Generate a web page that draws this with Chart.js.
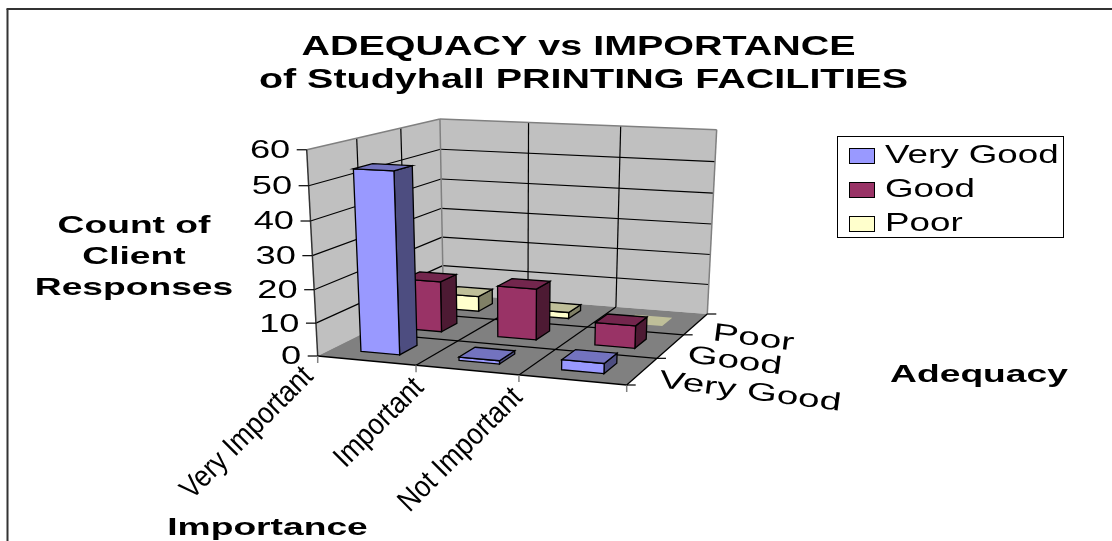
<!DOCTYPE html>
<html>
<head>
<meta charset="utf-8">
<title>Adequacy vs Importance</title>
<script src="https://cdn.jsdelivr.net/npm/chart.js@4/dist/chart.umd.min.js"></script>
<style>
html, body { margin: 0; padding: 0; background: #fff; overflow: hidden; }
#wrap { width: 1112px; height: 541px; position: relative; }
</style>
</head>
<body>
<div id="wrap"><canvas id="printChart" width="1112" height="541"></canvas></div>
<script>
const importanceLabels = ['Very Important', 'Important', 'Not Important'];
const adequacyLabels = ['Very Good', 'Good', 'Poor'];
const veryGoodCounts = [54, 1, 3];
const goodCounts = [16, 16, 7];
const poorCounts = [5, 2, 0];
const countTicks = [0, 10, 20, 30, 40, 50, 60];
const titleLines = ['ADEQUACY vs IMPORTANCE', 'of Studyhall PRINTING FACILITIES'];
const countTitle = ['Count of', 'Client', 'Responses'];

const FONT = '"Liberation Sans", Arial, sans-serif';

// floor corners of the 3D box, [u, v]: u runs along importance, v into the depth
const floorCorners = { p00: [317.7, 356], p10: [626.7, 385], p11: [707.3, 314], p01: [443.3, 293.6] };
const verticalVanish = [516, 4078];
const heightAlpha = -0.0525;

// unit square -> floor quad homography
function makeFloor(c) {
    const sx = c.p00[0] - c.p10[0] + c.p11[0] - c.p01[0];
    const sy = c.p00[1] - c.p10[1] + c.p11[1] - c.p01[1];
    const dx1 = c.p10[0] - c.p11[0], dx2 = c.p01[0] - c.p11[0];
    const dy1 = c.p10[1] - c.p11[1], dy2 = c.p01[1] - c.p11[1];
    const det = dx1 * dy2 - dx2 * dy1;
    const g = (sx * dy2 - dx2 * sy) / det;
    const h = (dx1 * sy - sx * dy1) / det;
    return {
        g, h,
        a: c.p10[0] * (1 + g) - c.p00[0], b: c.p01[0] * (1 + h) - c.p00[0],
        d: c.p10[1] * (1 + g) - c.p00[1], e: c.p01[1] * (1 + h) - c.p00[1]
    };
}
const floorMap = makeFloor(floorCorners);

// u, v, w all 0..1, w is the height
function project(u, v, w) {
    const f = floorMap, c = floorCorners.p00;
    const W = f.g * u + f.h * v + 1;
    const X = f.a * u + f.b * v + c[0];
    const Y = f.d * u + f.e * v + c[1];
    const k = w * heightAlpha;
    return [(X + k * verticalVanish[0]) / (W + k), (Y + k * verticalVanish[1]) / (W + k)];
}

function poly(ctx, pts, fill, stroke) {
    ctx.beginPath();
    pts.forEach((p, i) => i ? ctx.lineTo(p[0], p[1]) : ctx.moveTo(p[0], p[1]));
    ctx.closePath();
    if (fill) { ctx.fillStyle = fill; ctx.fill(); }
    if (stroke) { ctx.strokeStyle = stroke; ctx.lineWidth = 1.3; ctx.stroke(); }
}

function seg(ctx, a, b, color, width) {
    ctx.beginPath();
    ctx.moveTo(a[0], a[1]);
    ctx.lineTo(b[0], b[1]);
    ctx.strokeStyle = color;
    ctx.lineWidth = width || 1.2;
    ctx.stroke();
}

// text is wider than tall in this chart, stretch lets it run along its baseline
function label(ctx, text, x, y, opts) {
    ctx.save();
    ctx.translate(x, y);
    ctx.rotate(opts.angle || 0);
    ctx.scale(opts.stretch || 1, 1);
    ctx.font = (opts.bold ? 'bold ' : '') + opts.size + 'px ' + FONT;
    ctx.textAlign = opts.align || 'left';
    ctx.textBaseline = opts.baseline || 'middle';
    ctx.fillStyle = '#000';
    ctx.fillText(text, 0, 0);
    ctx.restore();
}

function drawBox(ctx, u0, u1, v0, v1, w, colors) {
    const fl = project(u0, v0, 0), fr = project(u1, v0, 0), br = project(u1, v1, 0);
    const tfl = project(u0, v0, w), tfr = project(u1, v0, w), tbr = project(u1, v1, w), tbl = project(u0, v1, w);
    if (w <= 0) {
        // an empty count only shows as a flat patch on the floor
        poly(ctx, [tfl, tfr, tbr, tbl], colors.top);
        return;
    }
    poly(ctx, [fr, br, tbr, tfr], colors.side, '#000');
    poly(ctx, [fl, fr, tfr, tfl], colors.front, '#000');
    poly(ctx, [tfl, tfr, tbr, tbl], colors.top, '#000');
}

const boxPlugin = {
    id: 'box3d',
    beforeDatasetsDraw(chart) {
        const ctx = chart.ctx;
        const xs = chart.scales.x, ys = chart.scales.y, zs = chart.scales.z;
        const depth = i => (zs.getPixelForValue(i) - zs.left) / zs.width;
        const across = px => (px - xs.left) / xs.width;
        const rise = v => (ys.bottom - ys.getPixelForValue(v)) / ys.height;

        ctx.save();

        // outer frame runs off the right and bottom of the page
        seg(ctx, [7.5, 541], [7.5, 9], '#333', 2);
        seg(ctx, [6.5, 9], [1112, 9], '#333', 2);

        // chart title
        const titleCentres = [578.5, 583.5];
        titleLines.forEach((t, i) => {
            label(ctx, t, titleCentres[i], 54.5 + i * 33.5, { size: 28, bold: true, stretch: 1.41, align: 'center', baseline: 'alphabetic' });
        });

        // walls and floor
        poly(ctx, [project(0, 0, 0), project(0, 1, 0), project(0, 1, 1), project(0, 0, 1)], '#c0c0c0');
        poly(ctx, [project(0, 1, 0), project(1, 1, 0), project(1, 1, 1), project(0, 1, 1)], '#c0c0c0');
        poly(ctx, [project(0, 0, 0), project(1, 0, 0), project(1, 1, 0), project(0, 1, 0)], '#808080');

        // gridlines
        countTicks.forEach(t => {
            const w = rise(t);
            if (w > 0 && w < 1) {
                seg(ctx, project(0, 0, w), project(0, 1, w), '#000');
                seg(ctx, project(0, 1, w), project(1, 1, w), '#000');
            }
        });
        [1 / 3, 2 / 3].forEach(t => {
            seg(ctx, project(t, 1, 0), project(t, 1, 1), '#000');
            seg(ctx, project(0, t, 0), project(0, t, 1), '#000');
            seg(ctx, project(t, 0, 0), project(t, 1, 0), '#000');
            seg(ctx, project(0, t, 0), project(1, t, 0), '#000');
        });

        // box edges
        seg(ctx, project(0, 0, 1), project(0, 1, 1), '#808080', 1.5);
        seg(ctx, project(0, 1, 1), project(1, 1, 1), '#808080', 1.5);
        seg(ctx, project(1, 1, 0), project(1, 1, 1), '#808080', 1.5);
        seg(ctx, project(0, 1, 0), project(0, 1, 1), '#808080', 1.5);
        seg(ctx, project(0, 0, 0), project(0, 0, 1), '#333', 1.5);
        seg(ctx, project(0, 0, 0), project(1, 0, 0), '#000', 1.3);
        seg(ctx, project(1, 0, 0), project(1, 1, 0), '#000', 1.3);

        // bars, furthest row first; each element already holds its scale position
        for (let d = chart.data.datasets.length - 1; d >= 0; d--) {
            const ds = chart.data.datasets[d];
            const v = depth(d);
            const half = 0.4 / 3 / 2;
            chart.getDatasetMeta(d).data.forEach((el) => {
                const u0 = across(el.x - el.width / 2), u1 = across(el.x + el.width / 2);
                const w = (el.base - el.y) / ys.height;
                drawBox(ctx, u0, u1, v - half, v + half, w, ds.faces);
            });
        }

        // value axis
        countTicks.forEach(t => {
            const p = project(0, 0, rise(t));
            seg(ctx, [p[0] - 10, p[1]], p, '#000');
            label(ctx, String(t), p[0] - 16.5, p[1] + 1.5, { size: 25, stretch: 1.45, align: 'right' });
        });

        // importance axis
        [0, 1 / 3, 2 / 3, 1].forEach(t => {
            const p = project(t, 0, 0);
            seg(ctx, p, [p[0], p[1] + 7], '#808080', 1.5);
        });
        const catLabelShift = [[-9, 16], [3, 18], [-1, 18]];
        xs.getLabels().forEach((txt, i) => {
            const p = project(i / 3, 0, 0);
            label(ctx, txt, p[0] + catLabelShift[i][0], p[1] + catLabelShift[i][1], { size: 30, stretch: 0.89, align: 'right', angle: -Math.PI / 4 });
        });

        // adequacy axis
        [0, 1 / 3, 2 / 3, 1].forEach(t => {
            const p = project(1, t, 0);
            seg(ctx, p, [p[0] + 9, p[1]], '#000');
        });
        zs.getLabels().forEach((txt, i) => {
            const p = project(1, (i + 0.5) / 3, 0);
            label(ctx, txt, p[0] + 17, p[1] + 9, { size: 25, stretch: 1.55, angle: 0.13 });
        });

        // axis titles
        countTitle.forEach((t, i) => {
            label(ctx, t, 134, 226.5 + i * 31, { size: 24, bold: true, stretch: 1.55, align: 'center' });
        });
        label(ctx, 'Adequacy', 979, 375, { size: 24, bold: true, stretch: 1.55, align: 'center' });
        label(ctx, 'Importance', 267.5, 528, { size: 24, bold: true, stretch: 1.55, align: 'center' });

        // legend box
        ctx.lineWidth = 1;
        ctx.strokeStyle = '#000';
        ctx.strokeRect(837.5, 136.5, 226, 101);
        chart.data.datasets.forEach((ds, i) => {
            const y = 156 + i * 34;
            ctx.fillStyle = ds.faces.front;
            ctx.fillRect(849.5, y - 7.5, 25, 15);
            ctx.strokeRect(849.5, y - 7.5, 25, 15);
            label(ctx, ds.label, 885, y + 0.5, { size: 25, stretch: 1.47 });
        });

        ctx.restore();
        return false;
    }
};

const makeSet = (name, counts, front, side, top) => ({
    label: name,
    data: counts,
    faces: { front, side, top },
    barPercentage: 0.4,
    categoryPercentage: 1,
    grouped: false
});

new Chart(document.getElementById('printChart').getContext('2d'), {
    type: 'bar',
    data: {
        labels: importanceLabels,
        datasets: [
            makeSet(adequacyLabels[0], veryGoodCounts, '#9999ff', '#4d4d80', '#7373bf'),
            makeSet(adequacyLabels[1], goodCounts, '#993366', '#4d1a33', '#73264d'),
            makeSet(adequacyLabels[2], poorCounts, '#ffffcc', '#808066', '#bfbf99')
        ]
    },
    options: {
        responsive: false,
        animation: false,
        events: [],
        layout: { padding: 0 },
        scales: {
            x: { type: 'category', display: false, offset: true },
            y: { type: 'linear', display: false, min: 0, max: 60 },
            z: { type: 'category', axis: 'x', labels: adequacyLabels, display: false, offset: true }
        },
        plugins: {
            legend: { display: false },
            tooltip: { enabled: false }
        }
    },
    plugins: [boxPlugin]
});
</script>
</body>
</html>
